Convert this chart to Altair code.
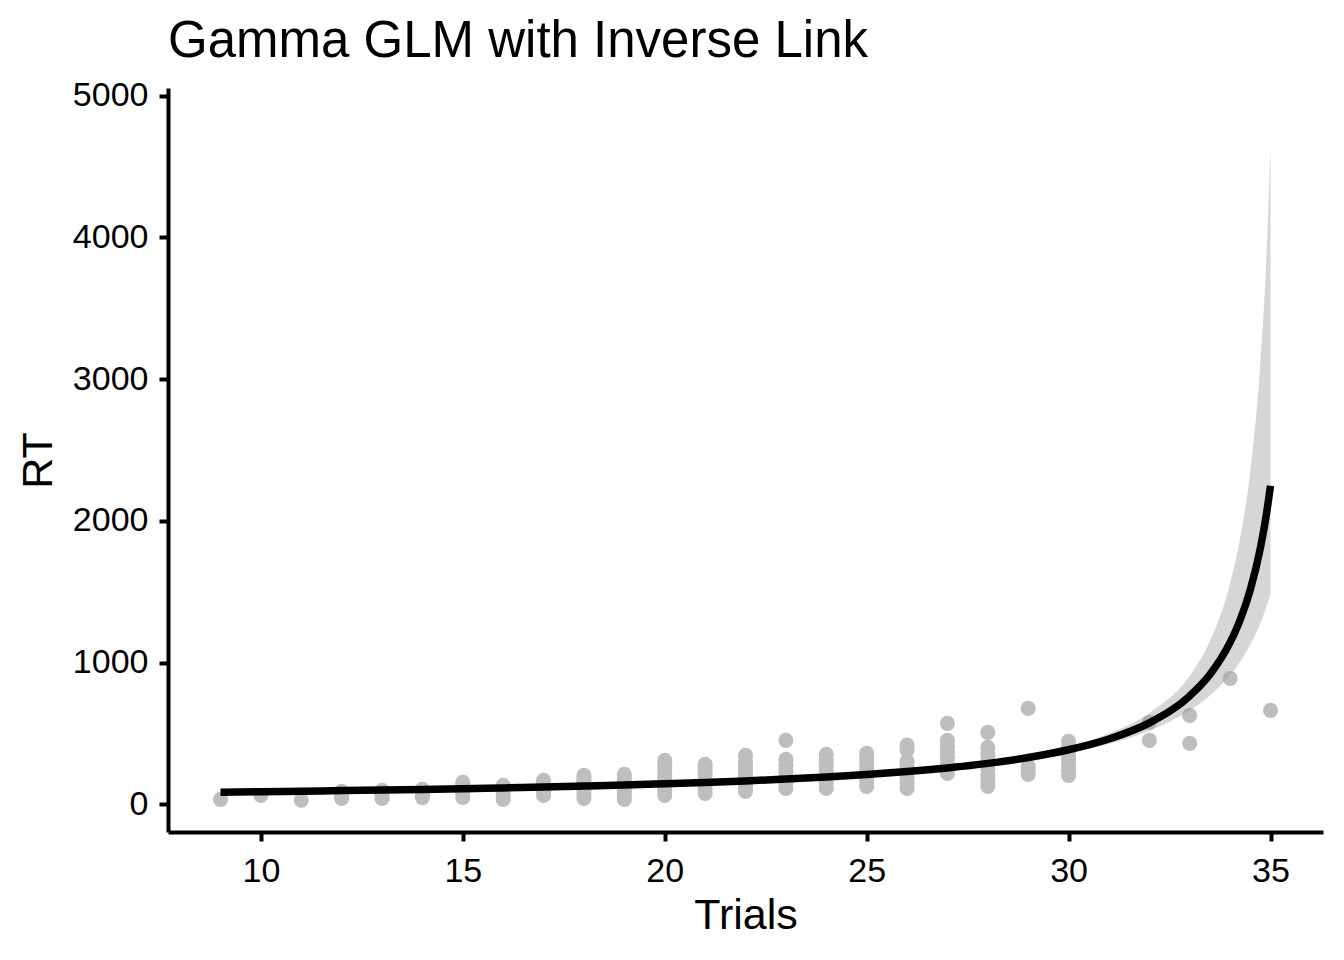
import altair as alt
import pandas as pd

trial_points = {
    9: [35],
    10: [63],
    11: [30],
    12: [42, 60, 78, 92],
    13: [42, 65, 85, 99],
    14: [48, 70, 90, 106],
    15: [49, 80, 110, 135, 155],
    16: [35, 60, 90, 115, 134],
    17: [63, 90, 120, 145, 169],
    18: [42, 70, 100, 130, 160, 185, 204],
    19: [35, 60, 90, 120, 150, 180, 211],
    20: [63, 95, 130, 165, 200, 235, 270, 310],
    21: [78, 110, 145, 180, 215, 250, 282],
    22: [92, 125, 160, 195, 230, 265, 300, 345],
    23: [113, 150, 190, 230, 270, 317, 451],
    24: [113, 150, 190, 230, 270, 310, 352],
    25: [127, 165, 200, 240, 280, 320, 359],
    26: [113, 150, 190, 230, 270, 305, 385, 418],
    27: [219, 255, 290, 330, 370, 410, 451, 571],
    28: [127, 165, 205, 247, 300, 350, 402, 508],
    29: [212, 240, 268, 677],
    30: [205, 240, 280, 320, 360, 400, 444],
    32: [451, 578],
    33: [430, 628],
    34: [888],
    35: [663],
}

# ---- fitted curve and confidence band ----
fit_x = [9, 10, 11, 12, 13, 14, 15, 16, 17, 18, 19, 20, 21, 22, 23, 24, 25,
         26, 27, 28, 29, 30, 31, 32, 33, 33.5, 34, 34.25, 34.5, 34.75, 34.9, 35]
fit_y = [86, 89, 93, 97, 101, 105, 110, 116, 122, 129, 136, 145, 154, 165, 178, 193, 210,
         231, 257, 289, 330, 385, 461, 575, 765, 916, 1142, 1302, 1514, 1809, 2049, 2247]
fit_lo = [84, 87, 91, 95, 99, 104, 109, 114, 120, 127, 135, 143, 153, 164, 176, 190, 207,
          227, 250, 279, 316, 363, 428, 520, 662, 767, 912, 1007, 1128, 1277, 1396, 1481]
fit_hi = [88, 91, 95, 98, 103, 107, 112, 117, 123, 130, 138, 146, 156, 167, 180, 195, 214,
          236, 264, 299, 345, 409, 500, 645, 907, 1150, 1560, 1880, 2350, 3120, 3855, 4655]

x_ticks = [10, 15, 20, 25, 30, 35]
y_ticks = [0, 1000, 2000, 3000, 4000, 5000]

pts = pd.DataFrame([(t, v) for t, vals in trial_points.items() for v in vals],
                   columns=["Trials", "RT"])
fit = pd.DataFrame({"Trials": fit_x, "RT": fit_y, "lo": fit_lo, "hi": fit_hi})

FONT = "Liberation Sans"

xscale = alt.Scale(domain=[7.7, 36.3], nice=False, zero=False)
yscale = alt.Scale(domain=[-195, 5053], nice=False, zero=False)

xaxis = alt.Axis(values=x_ticks, title="Trials", grid=False, format="d",
                 labelFontSize=34, titleFontSize=43, labelFont=FONT, titleFont=FONT,
                 labelColor="black", titleColor="black", titleFontWeight="normal",
                 domainColor="black", domainWidth=4, tickColor="black", tickWidth=4,
                 tickSize=9, labelPadding=13, titlePadding=6)
yaxis = alt.Axis(values=y_ticks, title="RT", grid=False, format="d",
                 labelFontSize=34, titleFontSize=43, labelFont=FONT, titleFont=FONT,
                 labelColor="black", titleColor="black", titleFontWeight="normal",
                 domainColor="black", domainWidth=4, tickColor="black", tickWidth=4,
                 tickSize=9, labelPadding=11, titlePadding=12)

points = alt.Chart(pts).mark_circle(size=230, color="#BEBEBE", opacity=1).encode(
    x=alt.X("Trials:Q", scale=xscale, axis=xaxis),
    y=alt.Y("RT:Q", scale=yscale, axis=yaxis),
)

band = alt.Chart(fit).mark_area(color="#999999", opacity=0.4, interpolate="monotone").encode(
    x=alt.X("Trials:Q", scale=xscale),
    y=alt.Y("lo:Q", scale=yscale),
    y2="hi:Q",
)

line = alt.Chart(fit).mark_line(color="black", strokeWidth=7.5, interpolate="monotone").encode(
    x=alt.X("Trials:Q", scale=xscale),
    y=alt.Y("RT:Q", scale=yscale),
)

chart = alt.layer(points, band, line).properties(
    width=1155,
    height=744,
    background="white",
    title=alt.TitleParams("Gamma GLM with Inverse Link", anchor="start", frame="group",
                          fontSize=51, font=FONT, fontWeight="normal", color="black",
                          offset=11),
    autosize=alt.AutoSizeParams(type="none"),
    padding={"left": 160, "top": 80, "right": 13, "bottom": 120},
).configure_view(stroke=None, strokeWidth=0)

chart.save("out.html", embed_options={"renderer": "svg", "actions": False})
